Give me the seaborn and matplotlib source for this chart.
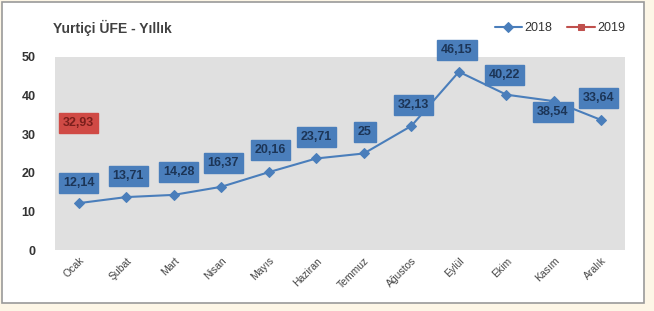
import pandas as pd
import seaborn as sns
import matplotlib.pyplot as plt
from matplotlib.patches import Rectangle

months = ['Ocak', 'Şubat', 'Mart', 'Nisan', 'Mayıs', 'Haziran',
          'Temmuz', 'Ağustos', 'Eylül', 'Ekim', 'Kasım', 'Aralık']
ufe_2018 = [12.14, 13.71, 14.28, 16.37, 20.16, 23.71,
            25, 32.13, 46.15, 40.22, 38.54, 33.64]
months_2019 = ['Ocak']
ufe_2019 = [32.93]

# label placement (pixel offsets from the point)
label_dx = [0, 2, 5, 2, 2, 0, 1, 2, -2, -2, -1, -3]
label_dy = [20, 21, 23, 24, 22, 21, 21, 21, 22, 20, -11, 22]

blue = '#4A7EBB'
red = '#C0504D'

sns.set_style('white')
plt.rcParams['font.family'] = ['Liberation Sans', 'DejaVu Sans']

fig = plt.figure(figsize=(6.54, 3.11), dpi=100)
fig.patch.set_facecolor('#FDF6E6')
fig.patches.append(Rectangle((0.003, 0.025), 0.982, 0.97, transform=fig.transFigure,
                             facecolor='white', edgecolor='#9A9A9A', lw=1.2, zorder=-1))

ax = fig.add_axes([0.084, 0.196, 0.872, 0.621])
ax.set_facecolor('#E0E0E0')

df18 = pd.DataFrame({'ay': months, 'deger': ufe_2018})
df19 = pd.DataFrame({'ay': months_2019, 'deger': ufe_2019})
sns.lineplot(data=df18, x='ay', y='deger', ax=ax, color=blue, marker='D',
             markersize=5, markeredgecolor=blue, lw=1.5, label='2018', sort=False)
sns.lineplot(data=df19, x='ay', y='deger', ax=ax, color=red, marker='s',
             markersize=5, markeredgecolor=red, lw=1.5, label='2019', sort=False)

for i, v in enumerate(ufe_2018):
    ax.annotate(f'{v:g}'.replace('.', ','), (i, v), xytext=(label_dx[i], label_dy[i]),
                textcoords='offset pixels', ha='center', va='center',
                fontsize=9, fontweight='bold', color='#1C3557',
                bbox=dict(boxstyle='square,pad=0.32', fc=blue, ec=blue))
for v in ufe_2019:
    ax.annotate(f'{v:g}'.replace('.', ','), (0, v), xytext=(0, 0),
                textcoords='offset pixels', ha='center', va='center',
                fontsize=9, fontweight='bold', color='#7A1F1C',
                bbox=dict(boxstyle='square,pad=0.32', fc='#D04A45', ec='#D04A45'))

ax.set_xlim(-0.5, 11.5)
ax.set_ylim(0, 50)
ax.set_yticks(range(0, 51, 10))
ax.set_xlabel('')
ax.set_ylabel('')
for s in ax.spines.values():
    s.set_visible(False)
ax.tick_params(axis='y', length=0, labelsize=9, labelcolor='#333333', pad=14)
ax.tick_params(axis='x', length=0, labelsize=7.5, labelcolor='#444444', pad=4)
for lab in ax.get_yticklabels():
    lab.set_fontweight('bold')
plt.setp(ax.get_xticklabels(), rotation=45, ha='right', rotation_mode='anchor')

ax.legend(loc='lower right', bbox_to_anchor=(1.02, 1.06), ncol=2, frameon=False,
          fontsize=9, handlelength=2.2, columnspacing=1.2, handletextpad=0.2,
          labelcolor='#333333')

fig.text(0.081, 0.91, 'Yurtiçi ÜFE - Yıllık', fontsize=10, fontweight='bold',
         color='#404040', va='center')

fig.savefig('out.png', dpi=100)
